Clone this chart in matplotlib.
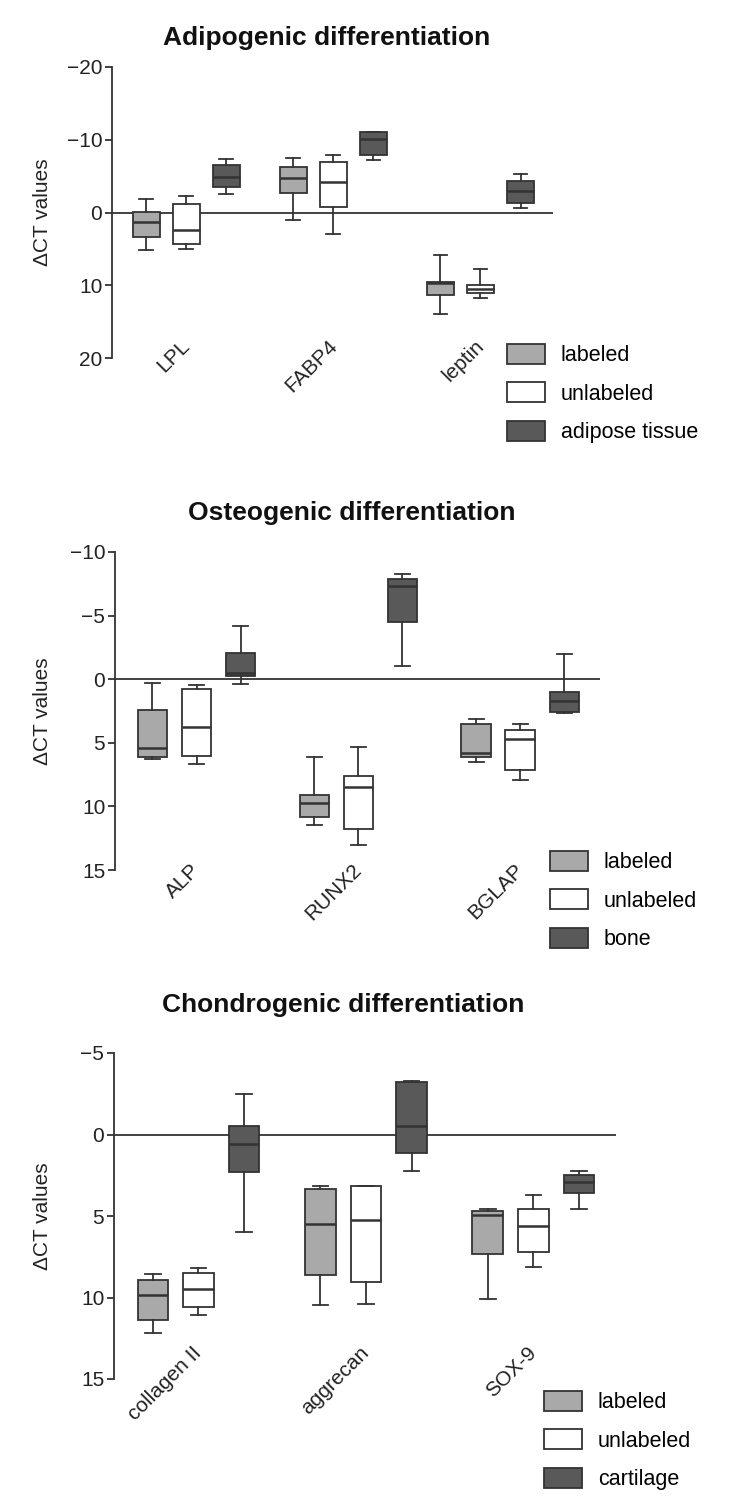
import matplotlib
matplotlib.use("Agg")
import matplotlib.pyplot as plt
from matplotlib.patches import Patch

plt.rcParams['font.family'] = ['Liberation Sans', 'DejaVu Sans']
plt.rcParams['axes.unicode_minus'] = True

# ---- data: (min, q1, median, q3, max) of delta CT per gene ----
adipo_genes = ['LPL', 'FABP4', 'leptin']
adipo_labeled = [[-1.8, -0.05, 1.3, 3.4, 5.1], [-7.5, -6.3, -4.7, -2.7, 1.0], [5.8, 9.6, 9.7, 11.3, 13.9]]
adipo_unlabeled = [[-2.3, -1.1, 2.4, 4.3, 5.0], [-7.9, -7.0, -4.2, -0.8, 3.0], [7.7, 9.9, 10.5, 11.1, 11.7]]
adipo_tissue = [[-7.4, -6.5, -4.9, -3.5, -2.5], [-11.1, -11.0, -10.1, -7.9, -7.2], [-5.3, -4.3, -2.9, -1.3, -0.6]]

osteo_genes = ['ALP', 'RUNX2', 'BGLAP']
osteo_labeled = [[0.26, 2.44, 5.4, 6.1, 6.3], [6.1, 9.1, 9.7, 10.8, 11.5], [3.15, 3.5, 5.8, 6.1, 6.5]]
osteo_unlabeled = [[0.47, 0.8, 3.75, 6.0, 6.7], [5.3, 7.6, 8.5, 11.8, 13.0], [3.5, 4.0, 4.7, 7.1, 7.95]]
osteo_tissue = [[-4.2, -2.07, -0.5, -0.24, 0.4], [-8.25, -7.9, -7.3, -4.5, -1.05], [-2.0, 1.0, 1.7, 2.55, 2.65]]

chondro_genes = ['collagen II', 'aggrecan', 'SOX-9']
chondro_labeled = [[8.55, 8.9, 9.86, 11.4, 12.2], [3.14, 3.37, 5.5, 8.6, 10.45], [4.55, 4.67, 4.94, 7.33, 10.1]]
chondro_unlabeled = [[8.16, 8.5, 9.5, 10.6, 11.1], [3.16, 3.16, 5.24, 9.06, 10.4], [3.7, 4.57, 5.6, 7.2, 8.1]]
chondro_tissue = [[-2.5, -0.5, 0.6, 2.3, 6.0], [-3.28, -3.25, -0.55, 1.12, 2.24], [2.25, 2.5, 2.9, 3.6, 4.6]]

W, H = 734, 1512
fig = plt.figure(figsize=(W / 100, H / 100), dpi=100)

colors = ['#a9a9a9', '#ffffff', '#595959']
edge = '#333333'


def rect(l, r, t, b):
    return [l / W, 1 - b / H, (r - l) / W, (b - t) / H]


def panel(box, ylim, yticks, genes, series, names, title, title_xy, leg_xy, lab_dy):
    ax = fig.add_axes(rect(*box))
    gap = 3.67
    for s, (vals, col) in enumerate(zip(series, colors)):
        stats = [dict(whislo=v[0], q1=v[1], med=v[2], q3=v[3], whishi=v[4]) for v in vals]
        pos = [g * gap + (s - 1) for g in range(len(genes))]
        ax.bxp(stats, positions=pos, widths=0.67, showfliers=False, patch_artist=True,
               capwidths=0.34,
               boxprops=dict(facecolor=col, edgecolor=edge, linewidth=1.3),
               medianprops=dict(color=edge, linewidth=1.8),
               whiskerprops=dict(color=edge, linewidth=1.3),
               capprops=dict(color=edge, linewidth=1.3))
    ax.axhline(0, color=edge, linewidth=1.3, zorder=0)
    ax.set_xlim(-1.85, 9.15)
    ax.set_ylim(ylim)
    ax.set_yticks(yticks)
    ax.set_xticks([])
    for sp in ['top', 'right', 'bottom']:
        ax.spines[sp].set_visible(False)
    ax.spines['left'].set_color(edge)
    ax.spines['left'].set_linewidth(1.3)
    ax.tick_params(axis='y', labelsize=15, length=5, width=1.3, color=edge, labelcolor='#222222', pad=2)
    ax.patch.set_alpha(0)

    # rotated gene labels
    frac = lab_dy / (box[3] - box[2])
    for g, name in enumerate(genes):
        ax.text(g * gap - 0.15, frac, name, transform=ax.get_xaxis_transform(),
                rotation=45, rotation_mode='anchor', ha='right', va='top',
                fontsize=15, color='#222222')

    fig.text(title_xy[0] / W, 1 - title_xy[1] / H, title, ha='center', va='center',
             fontsize=19, fontweight='bold', color='#111111')
    fig.text(42 / W, 1 - (box[2] + box[3]) / 2 / H, '\u0394CT values', rotation=90,
             ha='center', va='center', fontsize=15, color='#222222')

    handles = [Patch(facecolor=c, edgecolor=edge, linewidth=1.3) for c in colors]
    fig.legend(handles, names, loc='upper left',
               bbox_to_anchor=(leg_xy[0] / W, 1 - leg_xy[1] / H),
               frameon=False, fontsize=15.5, handlelength=1.75, handleheight=1.05,
               handletextpad=0.75, labelspacing=0.75, borderpad=0, borderaxespad=0)
    return ax


panel((112, 553, 67, 358), (20, -20), [-20, -10, 0, 10, 20], adipo_genes,
      [adipo_labeled, adipo_unlabeled, adipo_tissue], ['labeled', 'unlabeled', 'adipose tissue'],
      'Adipogenic differentiation', (327, 38), (507, 344), 22)

panel((115, 600, 552, 870), (15, -10), [-10, -5, 0, 5, 10, 15], osteo_genes,
      [osteo_labeled, osteo_unlabeled, osteo_tissue], ['labeled', 'unlabeled', 'bone'],
      'Osteogenic differentiation', (352, 513), (550, 851), 10)

panel((114, 616, 1053, 1379), (15, -5), [-5, 0, 5, 10, 15], chondro_genes,
      [chondro_labeled, chondro_unlabeled, chondro_tissue], ['labeled', 'unlabeled', 'cartilage'],
      'Chondrogenic differentiation', (343, 1005), (544, 1391), 36)

fig.savefig('out.png', dpi=100)
